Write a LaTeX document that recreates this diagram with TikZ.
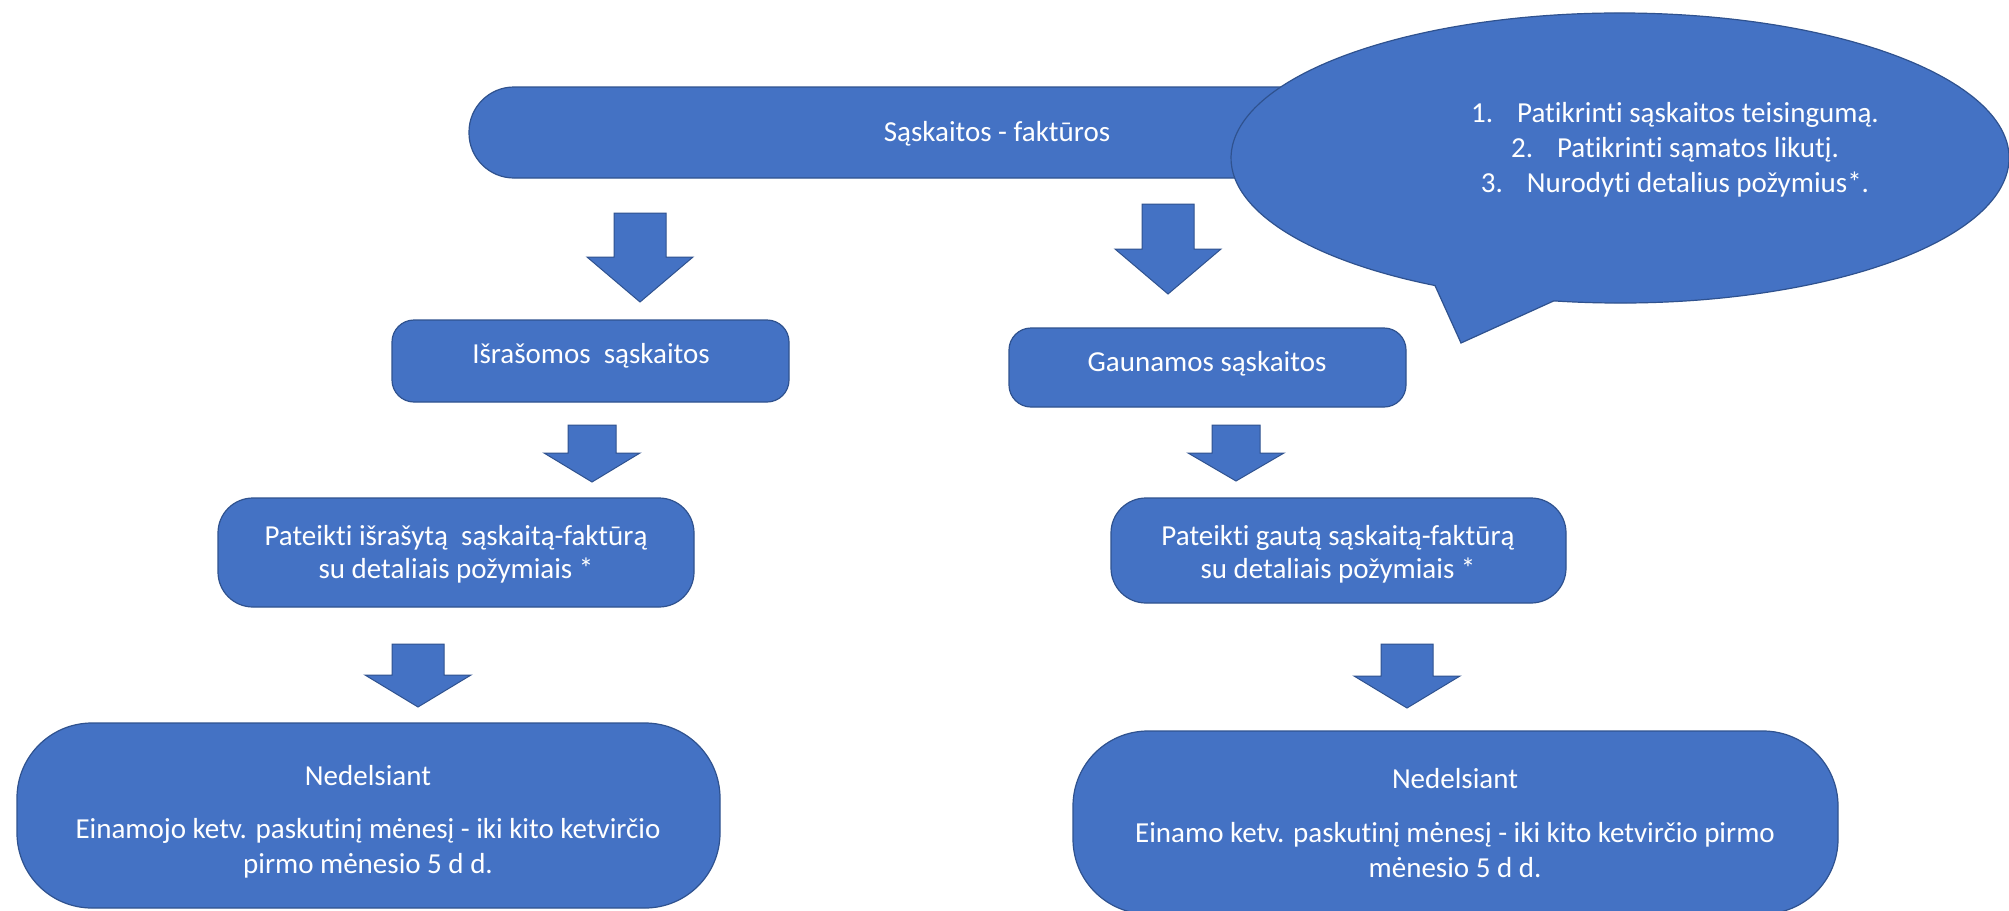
\documentclass[tikz,border=0pt]{standalone}
\usepackage{fontspec}
\setmainfont[Ligatures=NoCommon]{Carlito}
\definecolor{boxfill}{HTML}{4472C4}
\definecolor{boxline}{HTML}{2F528F}
\tikzset{
  box/.style={draw=boxline, fill=boxfill, line width=1.2pt, inner sep=0pt, rectangle},
  txt/.style={text=white, font=\fontsize{29}{35}\selectfont, inner sep=0pt, anchor=base},
  blockarr/.style={draw=boxline, fill=boxfill, line width=1pt, line join=miter}
}
% cx, top, head y, tip y, shaft half width, head half width (pixels, y downwards)
\newcommand\blockarrow[6]{%
  \path[blockarr] ({#1-#5},{-#2}) -- ({#1+#5},{-#2}) -- ({#1+#5},{-#3}) -- ({#1+#6},{-#3})
    -- (#1,{-#4}) -- ({#1-#6},{-#3}) -- ({#1-#5},{-#3}) -- cycle;}
\begin{document}
\begin{tikzpicture}[x=1pt,y=1pt]
\useasboundingbox (0,0) rectangle (2009,-910);
\clip (0,0) rectangle (2009,-910);
\fill[white] (0,0) rectangle (2009,-910);

% top box
\node[box, minimum width=1056, minimum height=91, rounded corners=45] (top) at (997,-132.5) {};
\node[txt] (ttop) at (997,-141) {Sąskaitos - faktūros};

% callout
\path[box] ([shift={(1620,-158)}]260.2:389 and 145)
  arc[start angle=260.2, end angle=601.6, x radius=389, y radius=145]
  -- (1461,-343) -- cycle;
\coordinate (call) at (1620,-158);
\node[txt] (c1) at (1675,-122) {1.\hspace{24pt}Patikrinti sąskaitos teisingumą.};
\node[txt] (c2) at (1675,-157) {2.\hspace{24pt}Patikrinti sąmatos likutį.};
\node[txt] (c3) at (1675,-192) {3.\hspace{24pt}Nurodyti detalius požymius*.};

% arrows
\blockarrow{640}{213}{257}{302}{26}{53}
\blockarrow{1168}{204}{249}{294}{26}{53}
\blockarrow{592}{425}{453}{482}{24}{48}
\blockarrow{1236}{425}{453}{481}{24}{48}
\blockarrow{418}{644}{675}{707}{26}{53}
\blockarrow{1407}{644}{676}{708}{26}{53}

% second row
\node[box, minimum width=397, minimum height=82, rounded corners=22] (isr) at (590.5,-361) {};
\node[txt] (tisr) at (591,-363) {Išrašomos\ \ sąskaitos};
\node[box, minimum width=397, minimum height=79, rounded corners=22] (gau) at (1207.5,-367.5) {};
\node[txt] (tgau) at (1207,-371) {Gaunamos sąskaitos};

% third row
\node[box, minimum width=476, minimum height=109, rounded corners=35] (pi) at (456,-552.5) {};
\node[txt] (pi1) at (456,-545) {Pateikti išrašytą\ \ sąskaitą-faktūrą};
\node[txt] (pi2) at (456,-578) {su detaliais požymiais *};
\node[box, minimum width=455, minimum height=105, rounded corners=35] (pg) at (1338.5,-550.5) {};
\node[txt] (pg1) at (1338,-545) {Pateikti gautą sąskaitą-faktūrą};
\node[txt] (pg2) at (1338,-578) {su detaliais požymiais *};

% bottom row
\node[box, minimum width=703, minimum height=185, rounded corners=75] (nl) at (368.5,-815.5) {};
\node[txt] (nl1) at (368,-785) {Nedelsiant};
\node[txt] (nl2) at (368,-838) {Einamojo ketv. paskutinį mėnesį - iki kito ketvirčio};
\node[txt] (nl3) at (368,-873) {pirmo mėnesio 5 d d.};
\node[box, minimum width=765, minimum height=183, rounded corners=75] (nr) at (1455.5,-822.5) {};
\node[txt] (nr1) at (1455,-788) {Nedelsiant};
\node[txt] (nr2) at (1455,-842) {Einamo ketv. paskutinį mėnesį - iki kito ketvirčio pirmo};
\node[txt] (nr3) at (1455,-877) {mėnesio 5 d d.};
\end{tikzpicture}
\end{document}
